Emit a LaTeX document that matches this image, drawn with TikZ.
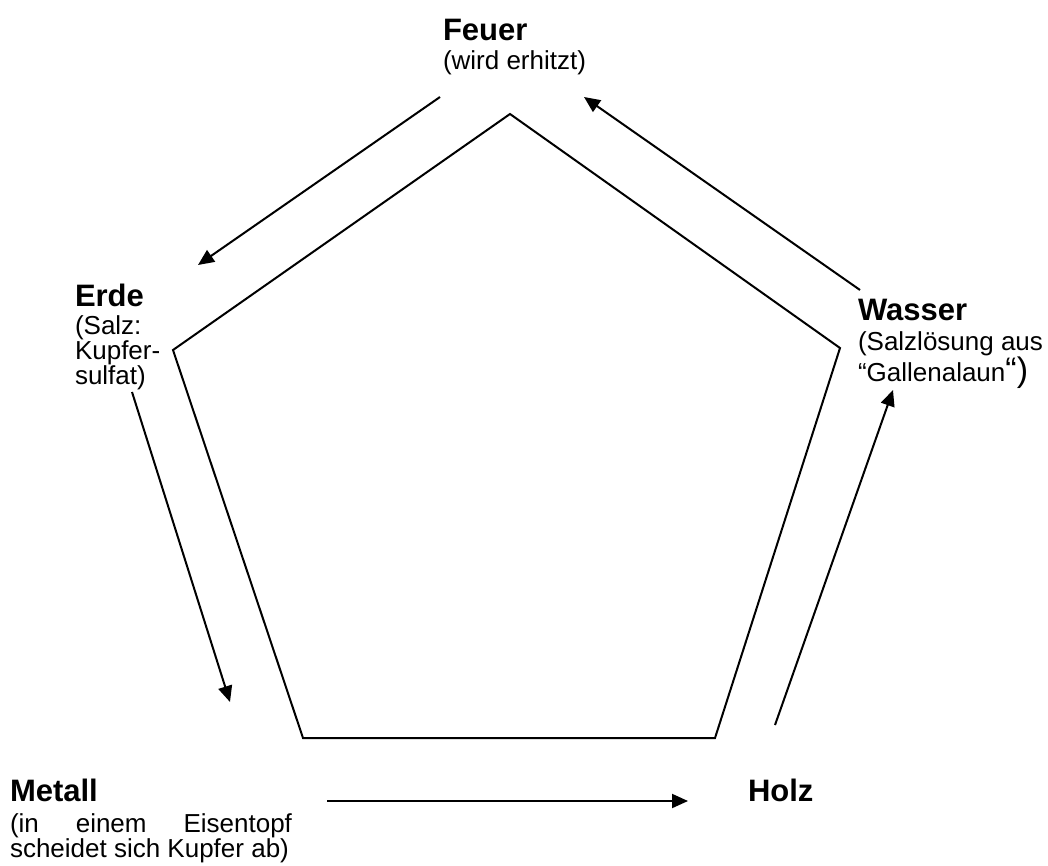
\documentclass[tikz,border=0pt]{standalone}
\usepackage{fontspec}
\setmainfont{Liberation Sans}
\usetikzlibrary{arrows.meta}
\newcommand{\regsize}{\fontsize{26pt}{26pt}\selectfont}
\newcommand{\bigsize}{\fontsize{31pt}{31pt}\selectfont}
\newcommand{\hugesize}{\fontsize{34pt}{34pt}\selectfont}
\newcommand{\titleline}[1]{\hbox{\bigsize\bfseries #1}}
\newcommand{\descline}[1]{\hbox{\regsize #1}}
\begin{document}
\begin{tikzpicture}[x=1pt,y=-1pt,
  lab/.style={anchor=base west, inner sep=0pt, outer sep=0pt},
  edge/.style={line width=2pt},
  flow/.style={line width=2pt, -{Triangle[length=16pt,width=14pt]}}]
\useasboundingbox (0,0) rectangle (1048,866);
% pentagon
\coordinate (ptop) at (510,114);
\coordinate (pleft) at (173,350);
\coordinate (pright) at (840,348);
\coordinate (pbl) at (303,738);
\coordinate (pbr) at (715,738);
\draw[edge, line join=miter] (ptop) -- (pright) -- (pbr) -- (pbl) -- (pleft) -- cycle;
% labels
\node[lab] (feuer) at (443,41) {\vtop{\baselineskip=29pt
  \titleline{Feuer}\descline{(wird erhitzt)}}};
\node[lab] (erde) at (75,306) {\vtop{\baselineskip=28pt
  \titleline{Erde}\descline{(Salz:}\baselineskip=23pt
  \descline{Kupfer-}\descline{sulfat)}}};
\node[lab] (wasser) at (858,320) {\vtop{\baselineskip=30pt
  \titleline{Wasser}\descline{(Salzlösung aus}\baselineskip=26pt
  \descline{“Gallenalaun{\hugesize “)}}}};
\node[lab] (metall) at (10,801) {\vtop{\baselineskip=31pt
  \titleline{Metall}\descline{\hbox to 282pt{(in\hfill einem\hfill Eisentopf}}\baselineskip=25pt
  \descline{scheidet sich Kupfer ab)}}};
\node[lab] (holz) at (748,801) {\titleline{Holz}};
% connector ends
\coordinate (fe0) at (440,97);  \coordinate (fe1) at (198,265);
\coordinate (em0) at (132,392); \coordinate (em1) at (230,702);
\coordinate (mh0) at (327,801); \coordinate (mh1) at (688,801);
\coordinate (hw0) at (775,725); \coordinate (hw1) at (893,390);
\coordinate (wf0) at (860,290); \coordinate (wf1) at (584,97);
\draw[flow] (fe0) -- (fe1);
\draw[flow] (em0) -- (em1);
\draw[flow] (mh0) -- (mh1);
\draw[flow] (hw0) -- (hw1);
\draw[flow] (wf0) -- (wf1);
\end{tikzpicture}
\end{document}
